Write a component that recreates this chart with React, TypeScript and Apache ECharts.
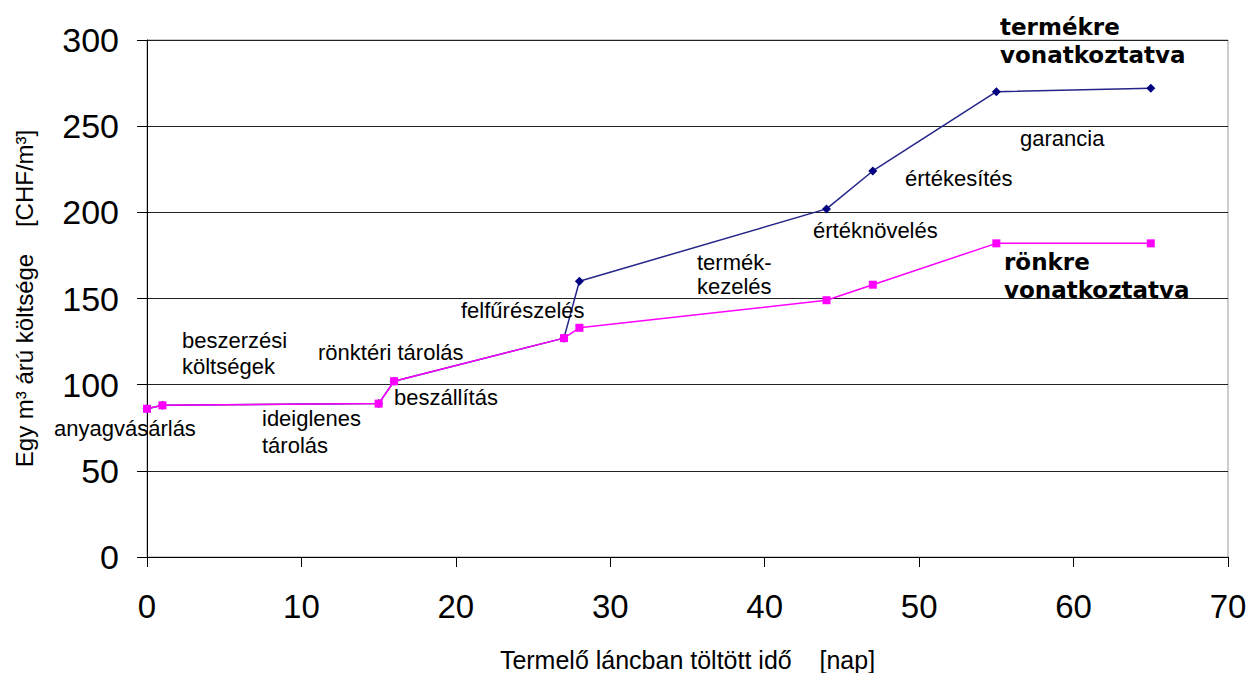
import React, { useEffect, useRef } from "react";
import * as echarts from "echarts";

const days = [0, 1, 15, 16, 27, 28, 44, 47, 55, 65];
const perProduct = [86, 88, 89, 102, 127, 160, 202, 224, 270, 272];
const perLog = [86, 88, 89, 102, 127, 133, 149, 158, 182, 182];

const xTicks = [0, 10, 20, 30, 40, 50, 60, 70];
const yTicks = [0, 50, 100, 150, 200, 250, 300];

const annotations: { text: string; x: number; y: number; bold?: boolean }[] = [
  { text: "anyagvásárlás", x: 54, y: 428 },
  { text: "beszerzési", x: 182, y: 340 },
  { text: "költségek", x: 182, y: 366 },
  { text: "ideiglenes", x: 262, y: 418 },
  { text: "tárolás", x: 262, y: 445 },
  { text: "rönktéri tárolás", x: 318, y: 352 },
  { text: "beszállítás", x: 394, y: 397 },
  { text: "felfűrészelés", x: 461, y: 310 },
  { text: "termék-", x: 697, y: 262 },
  { text: "kezelés", x: 697, y: 286 },
  { text: "értéknövelés", x: 813, y: 230 },
  { text: "értékesítés", x: 905, y: 178 },
  { text: "garancia", x: 1020, y: 138 },
  { text: "termékre", x: 1000, y: 27, bold: true },
  { text: "vonatkoztatva", x: 1000, y: 55, bold: true },
  { text: "rönkre", x: 1004, y: 262, bold: true },
  { text: "vonatkoztatva", x: 1004, y: 290, bold: true },
];

export default function App() {
  const ref = useRef<HTMLDivElement>(null);
  useEffect(() => {
    if (!ref.current) return;
    const chart = echarts.init(ref.current, null, { renderer: "svg" });
    const sans = "Liberation Sans, Arial, sans-serif";
    chart.setOption({
      animation: false,
      backgroundColor: "#ffffff",
      grid: {
        left: 147,
        right: 22,
        top: 40,
        bottom: 116,
        show: true,
        borderColor: "#999",
        borderWidth: 1,
        containLabel: false,
        outerBoundsMode: "none",
      },
      xAxis: {
        type: "value",
        min: xTicks[0],
        max: xTicks[xTicks.length - 1],
        interval: 10,
        name: "Termelő láncban töltött idő    [nap]",
        nameLocation: "middle",
        nameGap: 90,
        nameTextStyle: { fontFamily: sans, fontSize: 25, color: "#000" },
        axisLine: { show: true, lineStyle: { color: "#000", width: 1 } },
        axisTick: { show: true, inside: false, length: 10, lineStyle: { color: "#000" } },
        axisLabel: { fontFamily: sans, fontSize: 33, color: "#000", margin: 33 },
        splitLine: { show: false },
      },
      yAxis: {
        type: "value",
        min: yTicks[0],
        max: yTicks[yTicks.length - 1],
        interval: 50,
        name: "Egy m³ árú költsége    [CHF/m³]",
        nameLocation: "middle",
        nameGap: 111,
        nameRotate: 90,
        nameTextStyle: { fontFamily: sans, fontSize: 24, color: "#000" },
        axisLine: { show: true, lineStyle: { color: "#000", width: 1 } },
        axisTick: { show: true, inside: false, length: 10, lineStyle: { color: "#000" } },
        axisLabel: { fontFamily: sans, fontSize: 34, color: "#000", margin: 28 },
        splitLine: { show: true, lineStyle: { color: "#222", width: 1 } },
      },
      series: [
        {
          name: "termékre vonatkoztatva",
          type: "line",
          data: days.map((d, i) => [d, perProduct[i]]),
          symbol: "diamond",
          symbolSize: 9,
          lineStyle: { color: "#24248a", width: 1.5 },
          itemStyle: { color: "#000080" },
          z: 2,
        },
        {
          name: "rönkre vonatkoztatva",
          type: "line",
          data: days.map((d, i) => [d, perLog[i]]),
          symbol: "rect",
          symbolSize: 8,
          lineStyle: { color: "#ff00ff", width: 1.5 },
          itemStyle: { color: "#ff00ff" },
          z: 3,
        },
      ],
      graphic: annotations.map((a) => ({
        type: "text",
        x: a.x,
        y: a.y,
        z: 10,
        style: {
          text: a.text,
          fill: "#000",
          fontFamily: a.bold ? "DejaVu Sans, sans-serif" : sans,
          fontWeight: a.bold ? "bold" : "normal",
          fontSize: a.bold ? 23 : 22,
          align: "left",
          verticalAlign: "middle",
        },
      })),
    });
    return () => chart.dispose();
  }, []);
  return (
    <div
      ref={ref}
      style={{ position: "fixed", left: 0, top: 0, width: 1250, height: 673 }}
    />
  );
}
